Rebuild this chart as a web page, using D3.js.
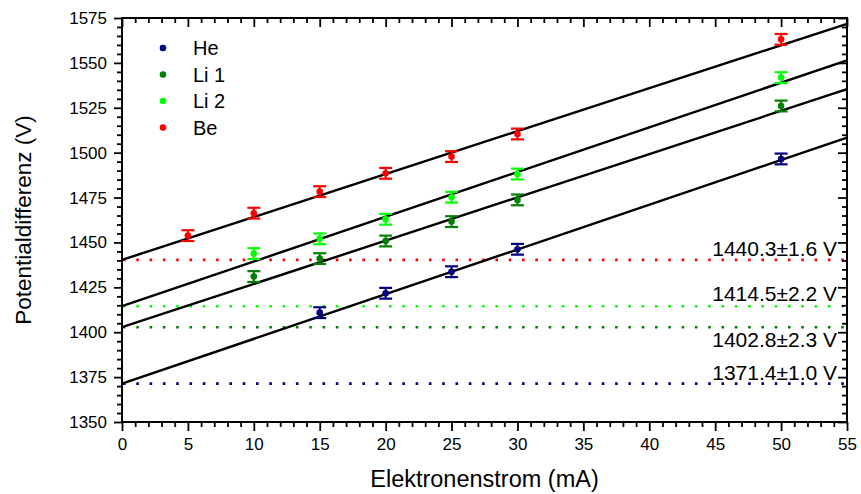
<!DOCTYPE html>
<html>
<head>
<meta charset="utf-8">
<script src="https://cdn.jsdelivr.net/npm/d3@7"></script>
<style>
  html, body { margin: 0; padding: 0; background: #fff; }
  svg { display: block; font-family: "Liberation Sans", Arial, sans-serif; }
</style>
</head>
<body>
<svg id="chart" width="861" height="494"></svg>
<script>
// Measured current (mA) per series
const currentsHe  = [15, 20, 25, 30, 50];
const currentsLi1 = [10, 15, 20, 25, 30, 50];
const currentsLi2 = [10, 15, 20, 25, 30, 50];
const currentsBe  = [5, 10, 15, 20, 25, 30, 50];

// Measured potential difference (V) per series
const voltsHe  = [1410.9, 1421.7, 1433.7, 1446.2, 1496.5];
const voltsLi1 = [1431.0, 1441.0, 1450.8, 1461.6, 1473.7, 1526.0];
const voltsLi2 = [1443.8, 1452.0, 1462.9, 1475.2, 1488.1, 1541.8];
const voltsBe  = [1453.8, 1466.3, 1478.3, 1488.5, 1497.8, 1510.4, 1563.1];

// Uncertainty of every measured voltage (V)
const errHe  = [3, 3, 3, 3, 3];
const errLi1 = [3, 3, 3, 3, 3, 3];
const errLi2 = [3, 3, 3, 3, 3, 3];
const errBe  = [3, 3, 3, 3, 3, 3, 3];

// Linear fits: intercept (V at 0 mA), its uncertainty, slope (V/mA)
const seriesNames   = ["He", "Li 1", "Li 2", "Be"];
const seriesColors  = ["#000080", "#008000", "#00ff00", "#ff0000"];
const fitIntercepts = [1371.4, 1402.8, 1414.5, 1440.3];
const fitInterceptErrs = [1.0, 2.3, 2.2, 1.6];
const fitSlopes     = [2.49, 2.41, 2.49, 2.39];

// Axis ticks
const xTicks = [0, 5, 10, 15, 20, 25, 30, 35, 40, 45, 50, 55];
const yTicks = [1350, 1375, 1400, 1425, 1450, 1475, 1500, 1525, 1550, 1575];
const xDomain = [0, 55];
const yDomain = [1350, 1575];

const currents = [currentsHe, currentsLi1, currentsLi2, currentsBe];
const volts = [voltsHe, voltsLi1, voltsLi2, voltsBe];
const errs = [errHe, errLi1, errLi2, errBe];

const svg = d3.select("#chart");
const plotLeft = 122, plotRight = 847, plotTop = 18, plotBottom = 422;

const x = d3.scaleLinear().domain(xDomain).range([plotLeft, plotRight]);
const y = d3.scaleLinear().domain(yDomain).range([plotBottom, plotTop]);

const xMinor = d3.range(xDomain[0], xDomain[1] + 1, 1).filter(v => v % 5 !== 0);
const yMinor = d3.range(yDomain[0], yDomain[1] + 1, 5).filter(v => v % 25 !== 0);

// Horizontal reference lines at each fitted intercept
const refG = svg.append("g");
seriesNames.forEach((name, i) => {
  refG.append("line")
    .attr("x1", x(xDomain[0]) + 1).attr("x2", x(xDomain[1]))
    .attr("y1", y(fitIntercepts[i])).attr("y2", y(fitIntercepts[i]))
    .attr("stroke", seriesColors[i])
    .attr("stroke-width", 2.6)
    .attr("stroke-dasharray", "2.6 10.7");
});

// Fit lines across the full current range
const fitG = svg.append("g");
seriesNames.forEach((name, i) => {
  const f = v => fitIntercepts[i] + fitSlopes[i] * v;
  fitG.append("line")
    .attr("x1", x(xDomain[0])).attr("y1", y(f(xDomain[0])))
    .attr("x2", x(xDomain[1])).attr("y2", y(f(xDomain[1])))
    .attr("stroke", "#000").attr("stroke-width", 2.4);
});

// Intercept annotations
const labelOffsets = [-4, 20, -5, -4];
const annG = svg.append("g");
[0, 1, 2, 3].forEach(i => {
  annG.append("text")
    .attr("x", 837)
    .attr("y", y(fitIntercepts[i]) + labelOffsets[i])
    .attr("text-anchor", "end")
    .attr("font-size", 21)
    .attr("fill", "#000")
    .text(`${fitIntercepts[i].toFixed(1)}±${fitInterceptErrs[i].toFixed(1)} V`);
});

// Data points with error bars
const capHalf = 6.5;
seriesNames.forEach((name, i) => {
  const g = svg.append("g");
  const pts = currents[i].map((c, k) => ({ c, v: volts[i][k], e: errs[i][k] }));
  const col = seriesColors[i];
  g.selectAll("line.bar").data(pts).join("line")
    .attr("x1", d => x(d.c)).attr("x2", d => x(d.c))
    .attr("y1", d => y(d.v - d.e)).attr("y2", d => y(d.v + d.e))
    .attr("stroke", col).attr("stroke-width", 2);
  g.selectAll("line.capT").data(pts).join("line")
    .attr("x1", d => x(d.c) - capHalf).attr("x2", d => x(d.c) + capHalf)
    .attr("y1", d => y(d.v + d.e)).attr("y2", d => y(d.v + d.e))
    .attr("stroke", col).attr("stroke-width", 2.2);
  g.selectAll("line.capB").data(pts).join("line")
    .attr("x1", d => x(d.c) - capHalf).attr("x2", d => x(d.c) + capHalf)
    .attr("y1", d => y(d.v - d.e)).attr("y2", d => y(d.v - d.e))
    .attr("stroke", col).attr("stroke-width", 2.2);
  g.selectAll("circle").data(pts).join("circle")
    .attr("cx", d => x(d.c)).attr("cy", d => y(d.v))
    .attr("r", 3.3).attr("fill", col);
});

// Axes
function styleAxis(g, labelSize) {
  g.select(".domain").remove();
  g.selectAll(".tick line").attr("stroke", "#000").attr("stroke-width", 1.8);
  g.selectAll(".tick text").attr("font-size", labelSize).attr("fill", "#000")
    .attr("font-family", "'Liberation Sans', Arial, sans-serif");
}

// bottom: major + minor outward
svg.append("g").attr("transform", `translate(0,${plotBottom})`)
  .call(d3.axisBottom(x).tickValues(xTicks).tickSize(9).tickPadding(7).tickFormat(d3.format("d")))
  .call(g => styleAxis(g, 17));
svg.append("g").attr("transform", `translate(0,${plotBottom})`)
  .call(d3.axisBottom(x).tickValues(xMinor).tickSize(5).tickFormat(""))
  .call(g => styleAxis(g, 17));
// top: inward
svg.append("g").attr("transform", `translate(0,${plotTop})`)
  .call(d3.axisBottom(x).tickValues(xTicks).tickSize(9).tickFormat(""))
  .call(g => styleAxis(g, 17));
svg.append("g").attr("transform", `translate(0,${plotTop})`)
  .call(d3.axisBottom(x).tickValues(xMinor).tickSize(5).tickFormat(""))
  .call(g => styleAxis(g, 17));
// left: outward
svg.append("g").attr("transform", `translate(${plotLeft},0)`)
  .call(d3.axisLeft(y).tickValues(yTicks).tickSize(8).tickPadding(7).tickFormat(d3.format("d")))
  .call(g => styleAxis(g, 17));
svg.append("g").attr("transform", `translate(${plotLeft},0)`)
  .call(d3.axisLeft(y).tickValues(yMinor).tickSize(5).tickFormat(""))
  .call(g => styleAxis(g, 17));
// right: inward
svg.append("g").attr("transform", `translate(${plotRight},0)`)
  .call(d3.axisLeft(y).tickValues(yTicks).tickSize(9).tickFormat(""))
  .call(g => styleAxis(g, 17));
svg.append("g").attr("transform", `translate(${plotRight},0)`)
  .call(d3.axisLeft(y).tickValues(yMinor).tickSize(5).tickFormat(""))
  .call(g => styleAxis(g, 17));

// Frame
svg.append("rect")
  .attr("x", plotLeft).attr("y", plotTop)
  .attr("width", plotRight - plotLeft).attr("height", plotBottom - plotTop)
  .attr("fill", "none").attr("stroke", "#000").attr("stroke-width", 2);

// Axis titles
svg.append("text")
  .attr("x", (plotLeft + plotRight) / 2).attr("y", 487)
  .attr("text-anchor", "middle").attr("font-size", 23.5)
  .text("Elektronenstrom (mA)");
svg.append("text")
  .attr("transform", `translate(31,${(plotTop + plotBottom) / 2}) rotate(-90)`)
  .attr("text-anchor", "middle").attr("font-size", 22.5)
  .text("Potentialdifferenz (V)");

// Legend
const legend = svg.append("g");
seriesNames.forEach((name, i) => {
  const ly = 48 + i * 26.5;
  legend.append("circle").attr("cx", 163).attr("cy", ly).attr("r", 3.3).attr("fill", seriesColors[i]);
  legend.append("text").attr("x", 193).attr("y", ly + 7).attr("font-size", 20).text(name);
});
</script>
</body>
</html>
